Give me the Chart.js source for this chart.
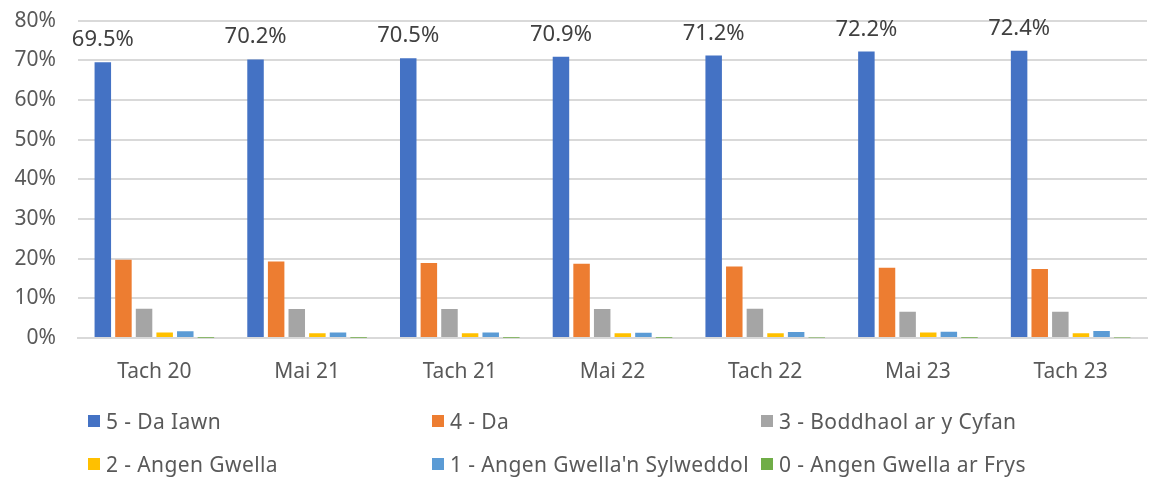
<!DOCTYPE html>
<html>
<head>
<meta charset="utf-8">
<script src="https://cdn.jsdelivr.net/npm/chart.js@4/dist/chart.umd.min.js"></script>
<style>
  html, body { margin: 0; padding: 0; background: #fff; }
  #wrap { position: relative; width: 1164px; height: 480px; overflow: hidden; font-family: "Noto Sans", sans-serif; }
  #chartCanvas { position: absolute; left: 0; top: -14px; }
  #legend { position: absolute; left: 0; top: 0; width: 1164px; height: 480px; pointer-events: none; }
  .item { position: absolute; display: flex; align-items: center; font-size: 21px; letter-spacing: 0.4px; color: #595959; white-space: nowrap; height: 24px; }
  .box { width: 12px; height: 12px; margin-right: 6px; flex: none; }
</style>
</head>
<body>
<div id="wrap">
  <canvas id="chartCanvas" width="1164" height="404"></canvas>
  <div id="legend"></div>
</div>
<script>
const categories = ['Tach 20', 'Mai 21', 'Tach 21', 'Mai 22', 'Tach 22', 'Mai 23', 'Tach 23'];
const seriesNames = ['5 - Da Iawn', '4 - Da', '3 - Boddhaol ar y Cyfan', '2 - Angen Gwella', "1 - Angen Gwella'n Sylweddol", '0 - Angen Gwella ar Frys'];
const daIawn = [69.5, 70.2, 70.5, 70.9, 71.2, 72.2, 72.4];
const da = [19.7, 19.3, 18.9, 18.7, 18.0, 17.7, 17.4];
const boddhaol = [7.4, 7.3, 7.3, 7.3, 7.4, 6.6, 6.6];
const angenGwella = [1.4, 1.2, 1.2, 1.2, 1.2, 1.4, 1.2];
const sylweddol = [1.7, 1.4, 1.4, 1.3, 1.5, 1.6, 1.75];
const arFrys = [0.05, 0.05, 0.05, 0.05, 0.1, 0.05, 0.1];
const yTicks = [0, 10, 20, 30, 40, 50, 60, 70, 80];

const colors = ['#4472C4', '#ED7D31', '#A5A5A5', '#FFC000', '#5B9BD5', '#70AD47'];
const allSeries = [daIawn, da, boddhaol, angenGwella, sylweddol, arFrys];

// labels above the first series only
const topLabels = {
  id: 'topLabels',
  afterDatasetsDraw(chart) {
    const ctx = chart.ctx;
    const meta = chart.getDatasetMeta(0);
    ctx.save();
    ctx.font = '22px "Noto Sans"';
    ctx.fillStyle = '#404040';
    ctx.textAlign = 'center';
    ctx.textBaseline = 'alphabetic';
    meta.data.forEach((bar, i) => {
      ctx.fillText(daIawn[i].toFixed(1) + '%', bar.x, bar.y - 16);
    });
    ctx.restore();
  }
};

const ctx = document.getElementById('chartCanvas').getContext('2d');
const chart = new Chart(ctx, {
  type: 'bar',
  data: {
    labels: categories,
    datasets: allSeries.map((d, i) => ({
      label: seriesNames[i],
      data: d,
      backgroundColor: colors[i],
      categoryPercentage: 0.81,
      barPercentage: 0.8
    }))
  },
  options: {
    responsive: false,
    animation: false,
    layout: { padding: { top: 5, right: 17, left: 0, bottom: 0 } },
    plugins: {
      legend: { display: false },
      tooltip: { enabled: false }
    },
    scales: {
      x: {
        grid: { display: false },
        border: { color: '#d9d9d9', width: 2 },
        ticks: { color: '#595959', font: { family: 'Noto Sans', size: 21 }, padding: 13 },
        afterFit: s => { s.height = 52; }
      },
      y: {
        min: 0,
        max: 80,
        afterBuildTicks: s => { s.ticks = yTicks.map(v => ({ value: v })); },
        grid: { color: '#d9d9d9', lineWidth: 2, drawTicks: false },
        border: { display: false },
        ticks: {
          color: '#595959',
          font: { family: 'Noto Sans', size: 21 },
          padding: 22,
          callback: v => v + '%'
        },
        afterFit: s => { s.width = 78; }
      }
    }
  },
  plugins: [topLabels]
});

// legend in three columns, like the original
const legendPos = [[88, 421], [432, 421], [761, 421], [88, 464], [432, 464], [761, 464]];
const legend = document.getElementById('legend');
chart.data.datasets.forEach((ds, i) => {
  const item = document.createElement('div');
  item.className = 'item';
  item.style.left = legendPos[i][0] + 'px';
  item.style.top = (legendPos[i][1] - 12) + 'px';
  item.innerHTML = '<span class="box" style="background:' + ds.backgroundColor + '"></span><span>' + ds.label + '</span>';
  legend.appendChild(item);
});
</script>
</body>
</html>
